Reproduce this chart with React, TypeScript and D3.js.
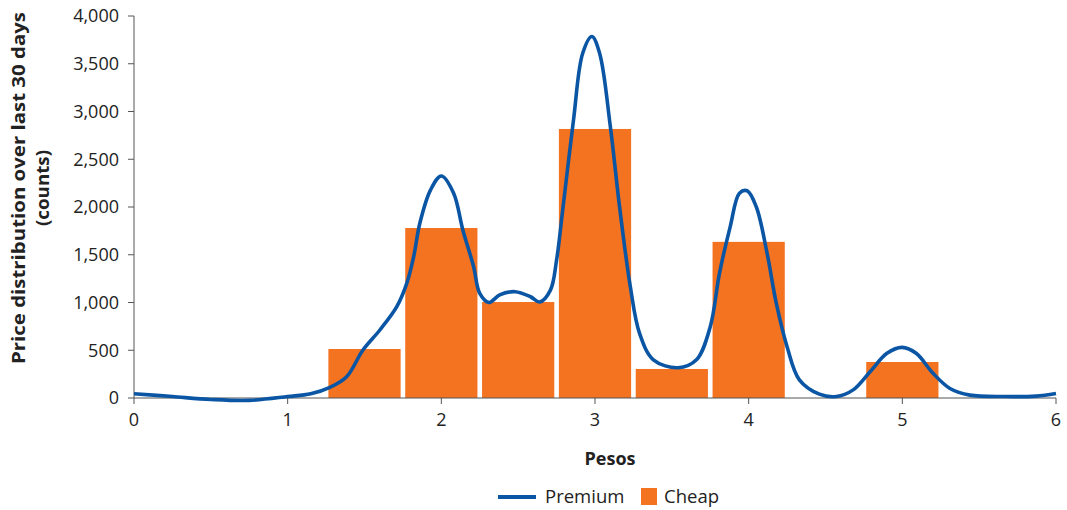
import React from "react";
import * as d3 from "d3";

const categories = [1.5, 2, 2.5, 3, 3.5, 4, 5];
const cheapValues = [513, 1780, 1005, 2817, 304, 1635, 377];
const premiumX = [0, 0.25, 0.5, 0.75, 1.0, 1.15, 1.275, 1.384, 1.49, 1.6, 1.71, 1.775, 1.82, 1.86, 1.93, 2.0, 2.08, 2.14, 2.21, 2.25, 2.31, 2.38, 2.48, 2.58, 2.64, 2.71, 2.75, 2.79, 2.86, 2.92, 2.98, 3.03, 3.1, 3.16, 3.23, 3.29, 3.38, 3.54, 3.66, 3.75, 3.81, 3.88, 3.94, 3.99, 4.05, 4.12, 4.18, 4.25, 4.33, 4.46, 4.57, 4.68, 4.79, 4.9, 5.0, 5.09, 5.2, 5.31, 5.44, 5.66, 5.87, 6.0];
const premiumY = [45, 15, -15, -25, 15, 45, 112, 223, 503, 712, 956, 1200, 1480, 1830, 2180, 2325, 2145, 1760, 1375, 1095, 1000, 1080, 1113, 1060, 1005, 1130, 1445, 1970, 2910, 3610, 3785, 3610, 2840, 2000, 1165, 677, 400, 317, 400, 747, 1305, 1795, 2145, 2170, 2000, 1515, 990, 537, 190, 40, 15, 85, 275, 468, 530, 468, 258, 100, 30, 15, 20, 48];
const xTicks = [0, 1, 2, 3, 4, 5, 6];
const yTicks = [0, 500, 1000, 1500, 2000, 2500, 3000, 3500, 4000];

const BLUE = "#0b56a4";
const ORANGE = "#f37321";
const AXIS = "#555";
const FONT = "'Open Sans', sans-serif";

export default function App() {
  const x = d3.scaleLinear().domain([0, 6]).range([134, 1056]);
  const y = d3.scaleLinear().domain([0, 4000]).range([398, 16]);
  const barW = 0.47;
  const fmt = d3.format(",");
  const line = d3
    .line<number>()
    .x((_, i) => x(premiumX[i]))
    .y((d) => y(d))
    .curve(d3.curveCatmullRom.alpha(0.5));

  return (
    <svg
      width={1067}
      height={510}
      style={{ position: "absolute", left: 0, top: 0, background: "#fff" }}
      fontFamily={FONT}
    >
      {categories.map((c, i) => (
        <rect
          key={i}
          x={x(c - barW / 2)}
          y={y(cheapValues[i])}
          width={x(c + barW / 2) - x(c - barW / 2)}
          height={y(0) - y(cheapValues[i])}
          fill={ORANGE}
        />
      ))}
      {/* y axis */}
      <line x1={134} x2={134} y1={y(4000)} y2={y(0)} stroke={AXIS} strokeWidth={1} />
      {yTicks.map((t) => (
        <g key={t}>
          <line x1={128} x2={134} y1={y(t)} y2={y(t)} stroke={AXIS} />
          <text x={119} y={y(t)} dy="0.36em" textAnchor="end" fontSize={18} fill="#222">
            {fmt(t)}
          </text>
        </g>
      ))}
      {/* x axis */}
      <line x1={x(0)} x2={x(6)} y1={398} y2={398} stroke={AXIS} />
      {xTicks.map((t) => (
        <g key={t}>
          <line x1={x(t)} x2={x(t)} y1={398} y2={404} stroke={AXIS} />
          <text x={x(t)} y={426} textAnchor="middle" fontSize={18} fill="#222">
            {t}
          </text>
        </g>
      ))}
      <path d={line(premiumY) || ""} fill="none" stroke={BLUE} strokeWidth={3.6} strokeLinejoin="round" />
      {/* axis titles */}
      <text
        transform={`translate(25,188) rotate(-90)`}
        textAnchor="middle"
        fontSize={18.5}
        fontWeight="bold"
        fill="#222"
        textLength={352}
        lengthAdjust="spacingAndGlyphs"
      >
        Price distribution over last 30 days
      </text>
      <text
        transform={`translate(49,188) rotate(-90)`}
        textAnchor="middle"
        fontSize={18.5}
        fontWeight="bold"
        fill="#222"
        textLength={76}
        lengthAdjust="spacingAndGlyphs"
      >
        (counts)
      </text>
      <text x={610} y={465} textAnchor="middle" fontSize={18} fontWeight="bold" fill="#222">
        Pesos
      </text>
      {/* legend */}
      <line x1={498} x2={536} y1={497} y2={497} stroke={BLUE} strokeWidth={4} />
      <text x={545} y={503} fontSize={18.5} fill="#222">
        Premium
      </text>
      <rect x={641} y={488} width={16} height={17} fill={ORANGE} />
      <text x={664} y={503} fontSize={18.5} fill="#222">
        Cheap
      </text>
    </svg>
  );
}
